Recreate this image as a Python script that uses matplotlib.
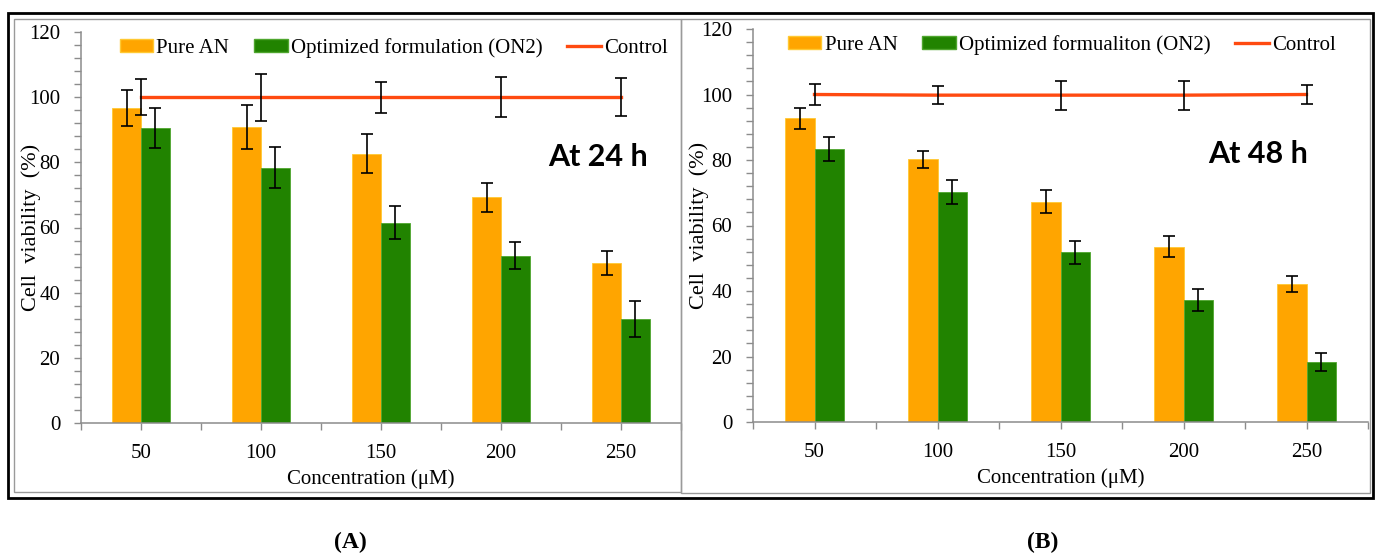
import matplotlib
matplotlib.use("Agg")
import matplotlib.pyplot as plt
from matplotlib.patches import Rectangle, Patch
from matplotlib.lines import Line2D
from matplotlib.ticker import MultipleLocator, FixedLocator
import numpy as np

# ---- data -------------------------------------------------------------
concentrations = ["50", "100", "150", "200", "250"]

pure_24 = [96.7, 90.8, 82.7, 69.3, 49.1]
pure_24_err = [5.6, 6.8, 6.0, 4.5, 3.6]
on2_24 = [90.6, 78.4, 61.5, 51.3, 32.0]
on2_24_err = [6.1, 6.4, 5.0, 4.1, 5.5]
ctrl_24 = [100, 100, 100, 100, 100]
ctrl_24_err = [5.5, 7.2, 4.8, 6.2, 5.9]

pure_48 = [92.7, 80.3, 67.3, 53.5, 42.2]
pure_48_err = [3.1, 2.6, 3.6, 3.2, 2.4]
on2_48 = [83.4, 70.2, 51.8, 37.2, 18.4]
on2_48_err = [3.7, 3.7, 3.6, 3.3, 2.7]
ctrl_48 = [100, 99.8, 99.8, 99.8, 100]
ctrl_48_err = [3.2, 2.8, 4.4, 4.4, 3.0]

# ---- style ------------------------------------------------------------
plt.rcParams["font.family"] = ["Liberation Serif", "DejaVu Serif"]
ORANGE = "#FFA500"
GREEN = "#218300"
RED = "#FF4A10"
AXIS_GRAY = "#8C8C8C"
FS = 15

W, H = 1379, 553
fig = plt.figure(figsize=(W / 100, H / 100), dpi=100)


def px_axes(x0, x1, y_top, y_bot):
    return fig.add_axes([x0 / W, 1 - y_bot / H, (x1 - x0) / W, (y_bot - y_top) / H])


def draw_panel(ax, pure, pure_err, on2, on2_err, ctrl, ctrl_err,
               on2_label, tag, tag_xy, legend_x, ylabel_x, xlabel_x):
    x = np.arange(len(concentrations))
    bw = 0.24
    ax.bar(x - bw / 2, pure, width=bw, color=ORANGE, edgecolor="#FFC933",
           linewidth=0.6, zorder=2)
    ax.bar(x + bw / 2, on2, width=bw, color=GREEN, edgecolor="#4FA62E",
           linewidth=0.6, zorder=2)
    ax.plot(x, ctrl, color=RED, lw=2.4, zorder=3)

    ekw = dict(fmt="none", ecolor="black", elinewidth=1.2, capsize=4,
               capthick=1.2, zorder=4)
    ax.errorbar(x - bw / 2, pure, yerr=pure_err, **ekw)
    ax.errorbar(x + bw / 2, on2, yerr=on2_err, **ekw)
    ax.errorbar(x, ctrl, yerr=ctrl_err, **ekw)

    ax.set_xlim(-0.5, len(concentrations) - 0.5)
    ax.set_ylim(0, 120)
    ax.set_xticks(x)
    ax.set_xticklabels(concentrations, fontsize=FS)
    ax.xaxis.set_minor_locator(FixedLocator(np.arange(-0.5, len(concentrations), 1.0)))
    ax.yaxis.set_major_locator(MultipleLocator(20))
    ax.yaxis.set_minor_locator(MultipleLocator(4))
    ax.tick_params(axis="both", which="both", direction="out", length=5,
                   width=1, color=AXIS_GRAY, labelsize=FS)
    ax.tick_params(axis="x", which="major", pad=10)
    ax.tick_params(axis="y", which="major", pad=10)

    for s in ("top", "right"):
        ax.spines[s].set_visible(False)
    for s in ("left", "bottom"):
        ax.spines[s].set_color(AXIS_GRAY)
        ax.spines[s].set_linewidth(1.1)

    ax.set_xlabel("Concentration (μM)", fontsize=FS)
    ax.xaxis.label.set_va("center")
    ax.xaxis.set_label_coords(xlabel_x, -0.143)
    ax.set_ylabel("Cell  viability  (%)", fontsize=FS + 1)
    ax.yaxis.label.set_va("center")
    ax.yaxis.set_label_coords(ylabel_x, 0.5)

    ax.text(tag_xy[0], tag_xy[1], tag, fontsize=22, fontweight="bold",
            family=["Lato", "DejaVu Sans"], ha="center", va="center")

    handles = [
        Patch(facecolor=ORANGE, edgecolor="#FFC933", label="Pure AN"),
        Patch(facecolor=GREEN, edgecolor="#4FA62E", label=on2_label),
        Line2D([], [], color=RED, lw=2.4, label="Control"),
    ]
    ax.legend(handles=handles, ncol=3, loc="upper left",
              bbox_to_anchor=(legend_x, 0.985), frameon=False, fontsize=FS,
              borderpad=0, borderaxespad=0, handlelength=1.6,
              handleheight=0.55, handletextpad=0.15, columnspacing=1.2)


ax_a = px_axes(81, 681, 32, 423)
draw_panel(ax_a, pure_24, pure_24_err, on2_24, on2_24_err, ctrl_24, ctrl_24_err,
           "Optimized formulation (ON2)", "At 24 h", (3.81, 81.6), 0.065, -0.083,
           0.483)

ax_b = px_axes(753, 1368, 29, 422)
draw_panel(ax_b, pure_48, pure_48_err, on2_48, on2_48_err, ctrl_48, ctrl_48_err,
           "Optimized formualiton (ON2)", "At 48 h", (3.61, 81.7), 0.057, -0.088,
           0.5)

# panel frames
def frame(x0, y0, x1, y1, color, lw):
    fig.add_artist(Rectangle((x0 / W, 1 - y1 / H), (x1 - x0) / W, (y1 - y0) / H,
                             transform=fig.transFigure, fill=False,
                             edgecolor=color, linewidth=lw))

frame(14, 19, 681, 492, "#9A9A9A", 1.0)
frame(681, 19, 1370, 493, "#9A9A9A", 1.0)
frame(8, 13, 1373, 498, "black", 2.0)

fig.text(350 / W, 1 - 542 / H, "(A)", fontsize=17, fontweight="bold",
         ha="center", va="center")
fig.text(1043 / W, 1 - 542 / H, "(B)", fontsize=17, fontweight="bold",
         ha="center", va="center")

fig.savefig("out.png", dpi=100)
